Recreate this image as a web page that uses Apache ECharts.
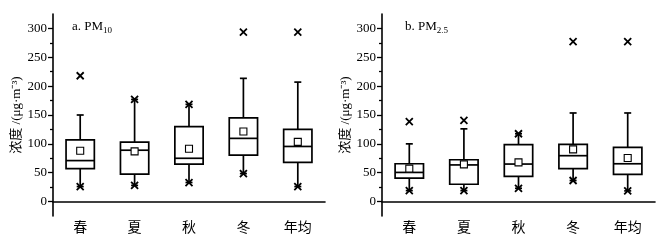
<!DOCTYPE html>
<html>
<head>
<meta charset="utf-8">
<script src="https://cdn.jsdelivr.net/npm/echarts@6/dist/echarts.min.js"></script>
<style>
  html, body { margin: 0; padding: 0; background: #fff; }
  #chart { width: 671px; height: 240px; }
</style>
</head>
<body>
<div id="chart"></div>
<script>
const categories = ['春', '夏', '秋', '冬', '年均'];

// [下须, Q1, 中位数, Q3, 上须]
const pm10Box = [
  [26, 57, 71, 107, 150],
  [28, 47.5, 89, 103, 177],
  [33, 65, 75, 130, 168.5],
  [48.5, 80.5, 109.5, 145, 213.5],
  [26, 68, 95.5, 125, 207]
];
const pm10Mean = [88, 87, 91.5, 121.5, 103.5];
const pm10Max = [218, 177, 168.5, 293.5, 293.5];
const pm10Min = [26, 28, 33, 48.5, 26];

const pm25Box = [
  [19, 40.5, 50.5, 65.5, 100],
  [19, 30, 63.5, 72.5, 126],
  [23, 43.5, 65, 98.5, 117.5],
  [36.5, 57, 79.5, 99, 153.5],
  [18.5, 47, 65.5, 94, 153.5]
];
const pm25Mean = [57, 64.5, 68, 90.5, 75.5];
const pm25Max = [138.5, 140.5, 117.5, 277, 277];
const pm25Min = [19, 19, 23, 36.5, 18.5];

const majorTicks = [0, 50, 100, 150, 200, 250, 300];
const minorTicks = [25, 75, 125, 175, 225, 275];

const font = '"Liberation Serif", "Noto Sans CJK SC", serif';
const crossPath = 'path://M0,0L10,10M10,0L0,10';

function renderBox(params, api) {
  const x = api.value(0);
  const low = api.coord([x, api.value(1)]);
  const q1 = api.coord([x, api.value(2)]);
  const med = api.coord([x, api.value(3)]);
  const q3 = api.coord([x, api.value(4)]);
  const high = api.coord([x, api.value(5)]);
  const half = api.size([1, 0])[0] * 0.26;
  const cap = 3.5;
  const st = { stroke: '#000', lineWidth: 1.7, fill: null };
  const line = (x1, y1, x2, y2) => ({ type: 'line', shape: { x1, y1, x2, y2 }, style: st });
  return {
    type: 'group',
    children: [
      line(low[0], low[1], q1[0], q1[1]),
      line(q3[0], q3[1], high[0], high[1]),
      line(high[0] - cap, high[1], high[0] + cap, high[1]),
      line(low[0] - cap, low[1], low[0] + cap, low[1]),
      {
        type: 'rect',
        shape: { x: q1[0] - half, y: q3[1], width: half * 2, height: q1[1] - q3[1] },
        style: { stroke: '#000', lineWidth: 1.7, fill: '#fff' }
      },
      line(med[0] - half, med[1], med[0] + half, med[1])
    ]
  };
}

function panelSeries(idx, box, mean, max, min) {
  return [
    {
      type: 'custom',
      xAxisIndex: idx,
      yAxisIndex: idx * 2,
      renderItem: renderBox,
      encode: { x: 0, y: [1, 2, 3, 4, 5] },
      data: box.map((d, i) => [i].concat(d)),
      z: 2
    },
    {
      type: 'scatter',
      xAxisIndex: idx,
      yAxisIndex: idx * 2,
      symbol: 'rect',
      symbolSize: 7,
      itemStyle: { color: '#fff', borderColor: '#000', borderWidth: 1.1, opacity: 1 },
      data: mean.map((v, i) => [i, v]),
      z: 3
    },
    {
      type: 'scatter',
      xAxisIndex: idx,
      yAxisIndex: idx * 2,
      symbol: crossPath,
      symbolSize: 7,
      itemStyle: { color: 'transparent', borderColor: '#000', borderWidth: 1.8, opacity: 1 },
      data: max.map((v, i) => [i, v]).concat(min.map((v, i) => [i, v])),
      z: 4
    }
  ];
}

function xAxis(gridIndex) {
  return {
    type: 'category',
    gridIndex,
    data: categories,
    boundaryGap: true,
    axisLine: { lineStyle: { color: '#000', width: 1.6 } },
    axisTick: { inside: true, alignWithLabel: true, length: 5, lineStyle: { color: '#000', width: 1.5 } },
    axisLabel: { color: '#000', fontSize: 14, fontFamily: font, margin: 5 },
    splitLine: { show: false }
  };
}

function yAxes(gridIndex) {
  const base = {
    type: 'value',
    gridIndex,
    min: -25,
    max: 325,
    interval: 25,
    position: 'left',
    offset: 0,
    splitLine: { show: false }
  };
  return [
    Object.assign({}, base, {
      name: '浓度 /(μg·m⁻³)',
      nameLocation: 'middle',
      nameGap: 30,
      nameTextStyle: { color: '#000', fontSize: 13, fontFamily: font },
      axisLine: { show: true, lineStyle: { color: '#000', width: 1.6 } },
      axisTick: { show: true, customValues: majorTicks, length: 5, lineStyle: { color: '#000', width: 1.3 } },
      axisLabel: { customValues: majorTicks, color: '#000', fontSize: 13, fontFamily: font, margin: 6 }
    }),
    Object.assign({}, base, {
      axisLine: { show: false },
      axisTick: { show: true, customValues: minorTicks, length: 3, lineStyle: { color: '#000', width: 1.3 } },
      axisLabel: { show: false }
    })
  ];
}

function titleStyle() {
  return {
    fontWeight: 'normal',
    rich: {
      a: { fontSize: 13, fontFamily: font, fontWeight: 'normal', color: '#000', lineHeight: 16 },
      s: { fontSize: 9, fontFamily: font, fontWeight: 'normal', color: '#000', lineHeight: 14, verticalAlign: 'bottom' }
    }
  };
}

const chart = echarts.init(document.getElementById('chart'), null, { renderer: 'canvas' });

chart.setOption({
  backgroundColor: '#fff',
  animation: false,
  title: [
    { left: 67, top: 14, text: '{a|a. PM}{s|10}', textStyle: titleStyle() },
    { left: 400, top: 14, text: '{a|b. PM}{s|2.5}', textStyle: titleStyle() }
  ],
  grid: [
    { left: 53, top: 14, width: 272, height: 202 },
    { left: 382, top: 14, width: 273, height: 202 }
  ],
  xAxis: [xAxis(0), xAxis(1)],
  yAxis: yAxes(0).concat(yAxes(1)),
  series: panelSeries(0, pm10Box, pm10Mean, pm10Max, pm10Min)
    .concat(panelSeries(1, pm25Box, pm25Mean, pm25Max, pm25Min))
});
</script>
</body>
</html>
